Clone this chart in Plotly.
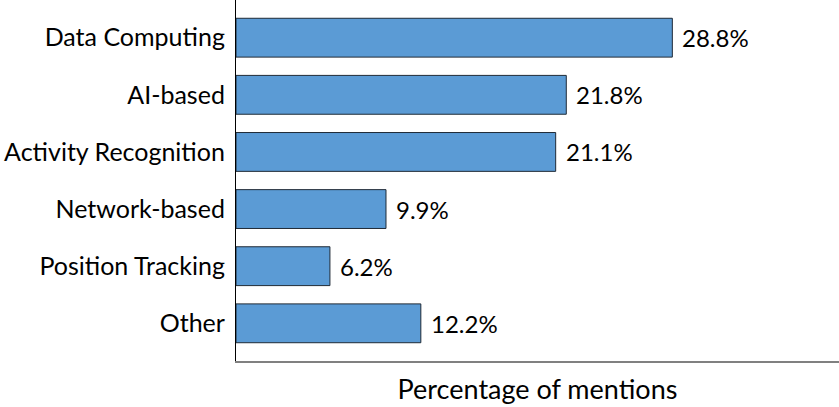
import plotly.graph_objects as go

categories = ["Data Computing", "AI-based", "Activity Recognition", "Network-based", "Position Tracking", "Other"]
values = [28.8, 21.8, 21.1, 9.9, 6.2, 12.2]
labels = [f"{v:.1f}%" for v in values]

FONT = "Lato, DejaVu Sans, sans-serif"
FS = 25

fig = go.Figure(go.Bar(
    x=values, y=categories, orientation="h",
    marker=dict(color="#5b9bd5", line=dict(color="#1f2a36", width=1)),
    width=0.68,
))

for v, c, t in zip(values, categories, labels):
    fig.add_annotation(x=v, y=c, text=t, showarrow=False, xanchor="left",
                       xshift=8, font=dict(family=FONT, size=FS - 1, color="black"))

fig.update_layout(
    width=839, height=407,
    margin=dict(l=236, r=0, t=0, b=46),
    plot_bgcolor="white", paper_bgcolor="white",
    font=dict(family=FONT, size=FS, color="black"),
    showlegend=False,
)
fig.update_xaxes(
    range=[0, 39.8], showgrid=False, zeroline=False,
    showline=True, linecolor="#808080", linewidth=2,
    showticklabels=False, ticks="", automargin=False,
    title=dict(text="Percentage of mentions", font=dict(family=FONT, size=27), standoff=18),
)
fig.update_yaxes(
    type="category", categoryorder="array", categoryarray=categories,
    range=[5.66, -0.66], showgrid=False, zeroline=False,
    showline=True, linecolor="black", linewidth=1.2,
    ticks="", ticklabelstandoff=5, automargin=False,
    tickfont=dict(family=FONT, size=FS, color="black"),
)

fig.write_html("out.html")
